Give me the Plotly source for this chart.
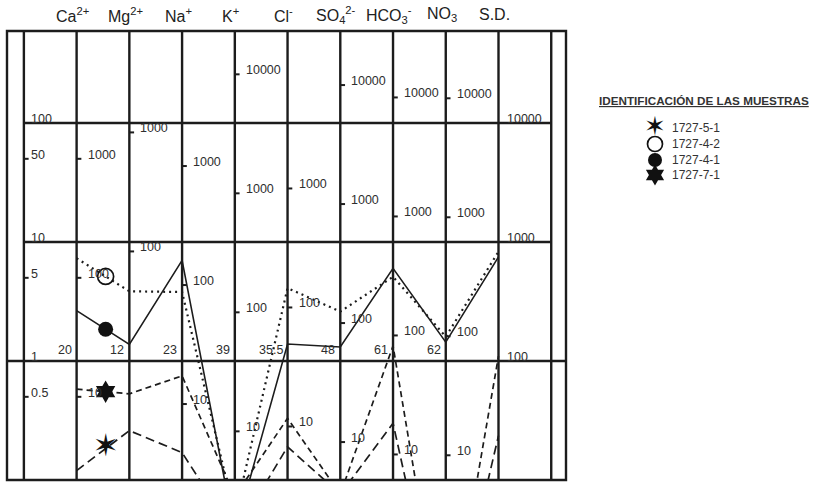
import numpy as np
import plotly.graph_objects as go

# ---- Schoeller diagram data -------------------------------------------------
ion_titles = ["Ca<sup>2+</sup>", "Mg<sup>2+</sup>", "Na<sup>+</sup>", "K<sup>+</sup>", "Cl<sup>-</sup>",
              "SO<sub>4</sub><sup>2-</sup>", "HCO<sub>3</sub><sup>-</sup>", "NO<sub>3</sub>", "S.D."]
# equivalent weights (mg per meq) of the ions
eq_weights = [20, 12, 23, 39, 35.5, 48, 61, 62]
eq_labels = ["20", "12", "23", "39", "35.5", "48", "61", "62"]

# concentrations in meq/L (S.D. column in hundreds of mg/L)
sample_names = ["1727-5-1", "1727-4-2", "1727-4-1", "1727-7-1"]
s_1727_5_1 = [0.12, 0.26, 0.17, 0.035, 0.19, 0.076, 0.30, 0.003, 0.236]
s_1727_4_2 = [7.3, 3.85, 3.8, 0.05, 4.1, 2.6, 5.1, 1.6, 8.3]
s_1727_4_1 = [2.65, 1.38, 7.0, 0.036, 1.39, 1.31, 6.0, 1.44, 7.5]
s_1727_7_1 = [0.58, 0.53, 0.75, 0.073, 0.33, 0.076, 1.34, 0.003, 1.1]

# scale labels on each vertical line
meq_scale = [100, 50, 10, 5, 1, 0.5]
mg_scales = [
    [1000, 100, 10],            # Ca
    [1000, 100],                # Mg
    [1000, 100, 10],            # Na
    [10000, 1000, 100, 10],     # K
    [1000, 100, 10],            # Cl
    [10000, 1000, 100, 10],     # SO4
    [10000, 1000, 100, 10],     # HCO3
    [10000, 1000, 100, 10],     # NO3
]
sd_scale = [10000, 1000, 100]
sd_factor = 100

legend_title = "IDENTIFICACIÓN DE LAS MUESTRAS"

# ---- figure ------------------------------------------------------------------
W, H = 813, 485
FONT = "Liberation Sans, Arial, sans-serif"
INK = "#1c1c1c"
TXT = "#2e2e2e"
series = [s_1727_5_1, s_1727_4_2, s_1727_4_1, s_1727_7_1]
line_styles = [
    dict(color=INK, width=1.7, dash="9px,5px"),
    dict(color=INK, width=2.2, dash="2px,4px"),
    dict(color=INK, width=1.6, dash="solid"),
    dict(color=INK, width=1.7, dash="6px,4px"),
]
x_cols = np.arange(1, 10)
x_mark = 1.55

fig = go.Figure()

for vals, st in zip(series, line_styles):
    fig.add_trace(go.Scatter(x=x_cols, y=np.log10(vals), mode="lines", line=st,
                             hoverinfo="skip", showlegend=False))

# sample markers on the Ca-Mg segment
def on_segment(vals):
    a, b = np.log10(vals[0]), np.log10(vals[1])
    return a + (x_mark - 1) * (b - a)

mark_y = [on_segment(v) for v in series]
STAR = "\u2736"
fig.add_trace(go.Scatter(x=[x_mark], y=[mark_y[0]], mode="text", text=[STAR],
                         textfont=dict(size=31, color="#111", family="DejaVu Sans"),
                         textposition="middle center", cliponaxis=False, showlegend=False))
marker_defs = [None,
               dict(symbol="circle-open", size=16, color="#111", line=dict(width=1.7, color="#111")),
               dict(symbol="circle", size=15, color="#111"),
               dict(symbol="hexagram", size=17, color="#111")]
for i in (1, 2, 3):
    fig.add_trace(go.Scatter(x=[x_mark], y=[mark_y[i]], mode="markers", marker=marker_defs[i],
                             cliponaxis=False, showlegend=False))

# ---- grid / frame ------------------------------------------------------------
shapes = []
for xv in range(0, 11):
    shapes.append(dict(type="line", xref="x", yref="y domain", x0=xv, x1=xv, y0=0, y1=1,
                       line=dict(color=INK, width=2.4)))
for yv in (2, 1):
    shapes.append(dict(type="line", xref="x", yref="y", x0=0, x1=10, y0=yv, y1=yv,
                       line=dict(color=INK, width=2.4)))
shapes.append(dict(type="line", xref="x domain", yref="y", x0=0, x1=1, y0=0, y1=0,
                   line=dict(color=INK, width=2.4)))
shapes.append(dict(type="rect", xref="x domain", yref="y domain", x0=0, x1=1, y0=0, y1=1,
                   line=dict(color=INK, width=2.4)))

annotations = []

def scale_label(xc, meq, text, offset):
    y = float(np.log10(meq))
    shapes.append(dict(type="line", xref="x", yref="y", x0=xc, x1=xc + 0.09, y0=y, y1=y,
                       line=dict(color=INK, width=2)))
    annotations.append(dict(x=xc + offset, y=y, xref="x", yref="y", text=text, showarrow=False,
                            xanchor="left", yanchor="middle", yshift=4,
                            font=dict(family=FONT, size=12.5, color=TXT)))

def fmt(v):
    return "%g" % v

for v in meq_scale:
    scale_label(0, v, fmt(v), 0.1)
for i, (w, marks) in enumerate(zip(eq_weights, mg_scales)):
    for m in marks:
        scale_label(i + 1, m / w, fmt(m), 0.17)
for m in sd_scale:
    scale_label(9, m / sd_factor, fmt(m), 0.13)

# equivalent weights just above the 1 meq/L line
for i, lab in enumerate(eq_labels):
    annotations.append(dict(x=i + 1, y=0, xref="x", yref="y", text=lab, showarrow=False,
                            xanchor="right", yanchor="bottom", xshift=-3, yshift=2,
                            font=dict(family=FONT, size=12.5, color=TXT)))

# column titles
for i, t in enumerate(ion_titles):
    annotations.append(dict(x=i + 1, y=1, xref="x", yref="y domain", text=t, showarrow=False,
                            xanchor="center", yanchor="middle", xshift=-4, yshift=16,
                            font=dict(family=FONT, size=16, color="#222")))

# ---- sample key (pixel-coordinate axes on the right) -------------------------
key_x = 655
key_y = [128, 144, 160, 175]
annotations.append(dict(x=704, y=100, xref="x2", yref="y2",
                        text="<b><u>" + legend_title + "</u></b>", showarrow=False,
                        xanchor="center", yanchor="middle",
                        font=dict(family=FONT, size=11.7, color="#333")))
for name, ky in zip(sample_names, key_y):
    annotations.append(dict(x=key_x + 15, y=ky, xref="x2", yref="y2", text=name, showarrow=False,
                            xanchor="left", yanchor="middle",
                            font=dict(family=FONT, size=12, color="#333")))
fig.add_trace(go.Scatter(x=[key_x], y=[key_y[0]], mode="text", text=[STAR], xaxis="x2", yaxis="y2",
                         textfont=dict(size=26, color="#111", family="DejaVu Sans"),
                         textposition="middle center", cliponaxis=False, showlegend=False))
for i in (1, 2, 3):
    md = dict(marker_defs[i])
    md["size"] = md["size"] - 1
    fig.add_trace(go.Scatter(x=[key_x], y=[key_y[i]], mode="markers", marker=md,
                             xaxis="x2", yaxis="y2", cliponaxis=False, showlegend=False))

x0d, x1d = 7 / W, 566 / W
fig.update_layout(
    width=W, height=H,
    margin=dict(l=0, r=0, t=0, b=0),
    paper_bgcolor="white", plot_bgcolor="white",
    xaxis=dict(domain=[x0d, x1d], range=[-0.32, 10.28], visible=False, fixedrange=True),
    yaxis=dict(domain=[5 / H, 454 / H], range=[-1, 2.773], visible=False, fixedrange=True),
    xaxis2=dict(domain=[580 / W, 1], range=[580, W], visible=False, fixedrange=True,
                anchor="y2"),
    yaxis2=dict(domain=[0, 1], range=[H, 0], visible=False, fixedrange=True, anchor="x2"),
    shapes=shapes, annotations=annotations, showlegend=False,
)

fig.write_html("out.html")
